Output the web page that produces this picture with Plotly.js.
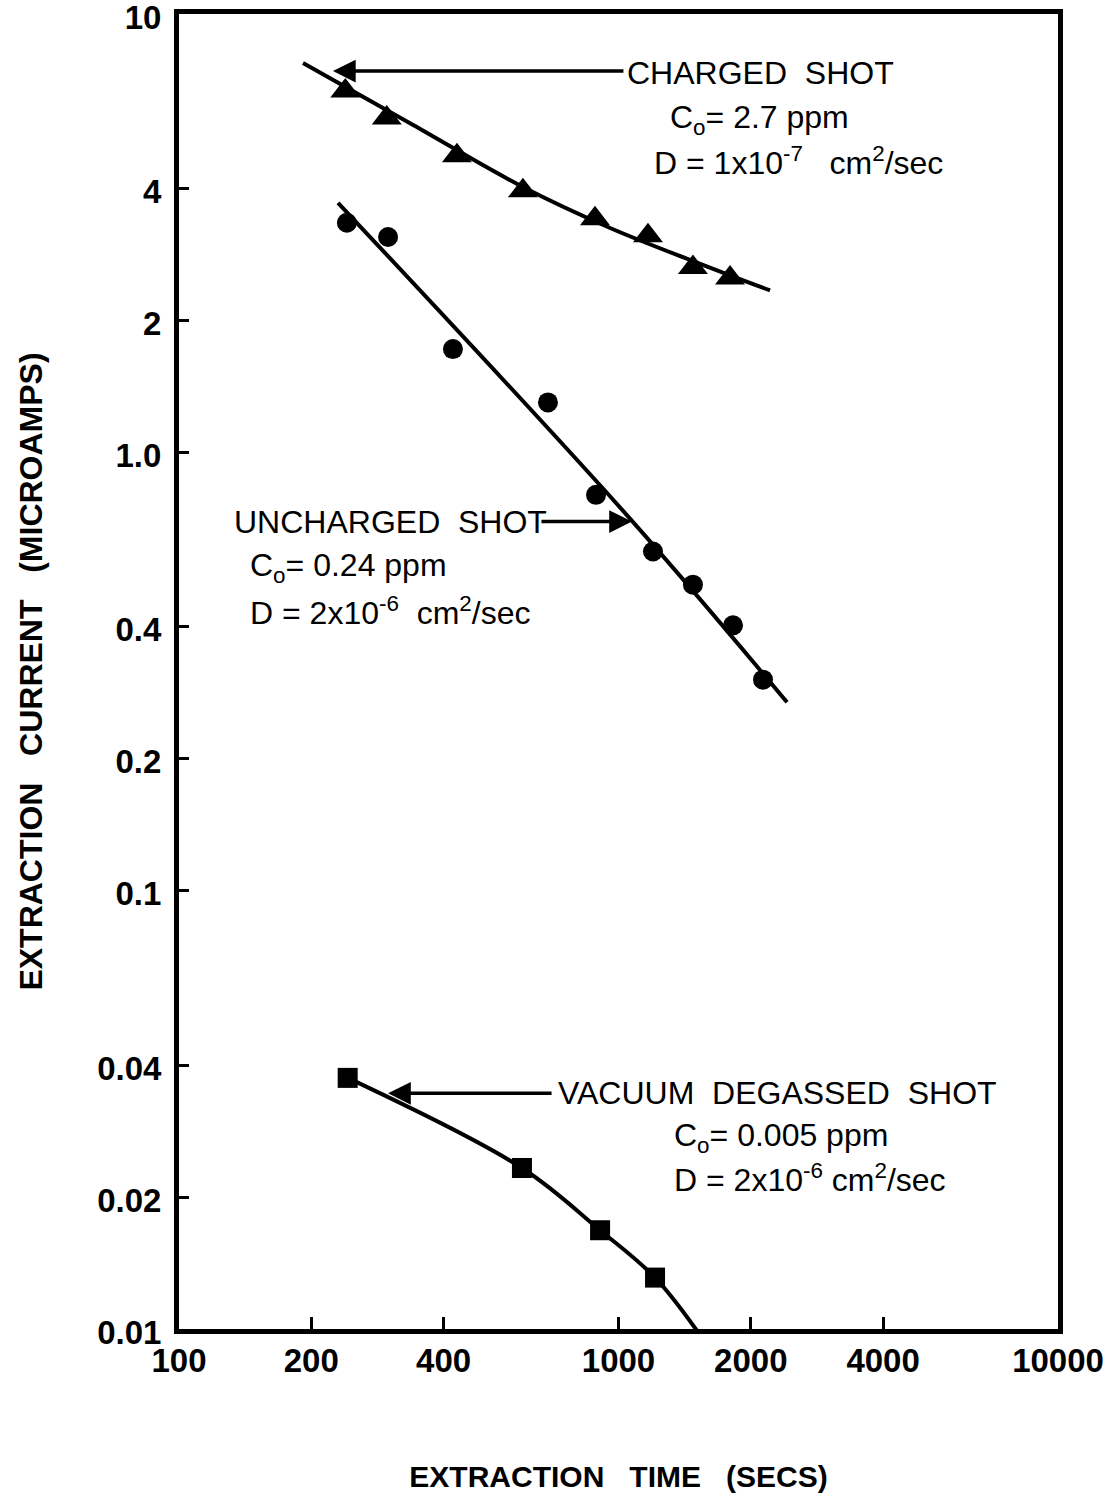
<!DOCTYPE html>
<html>
<head>
<meta charset="utf-8">
<script src="https://cdn.plot.ly/plotly-3.0.1.min.js"></script>
<style>
  html, body { margin: 0; padding: 0; background: #fff; }
  #chart { width: 1115px; height: 1498px; }
</style>
</head>
<body>
<div id="chart"></div>
<script>
// ---- data ----
var chargedTime    = [239, 297, 429, 606, 884, 1167, 1477, 1794];
var chargedCurrent = [6.67, 5.79, 4.75, 3.95, 3.41, 3.12, 2.64, 2.50];
var chargedFitTime    = [191.5, 341, 606, 957, 1493, 2212];
var chargedFitCurrent = [7.73, 5.58, 4.03, 3.25, 2.72, 2.34];

var unchargedTime    = [241, 299, 420, 691, 889, 1198, 1477, 1822, 2132];
var unchargedCurrent = [3.34, 3.10, 1.72, 1.30, 0.80, 0.594, 0.499, 0.403, 0.303];
var unchargedFitTime    = [230, 1062, 2418];
var unchargedFitCurrent = [3.71, 0.706, 0.269];

var vacuumTime    = [242, 603, 908, 1211];
var vacuumCurrent = [0.0374, 0.0233, 0.0168, 0.0131];
var vacuumFitTime    = [242, 603, 908, 1211, 1532];
var vacuumFitCurrent = [0.0374, 0.0233, 0.0168, 0.0131, 0.0097];

var xTickVals = [100, 200, 400, 1000, 2000, 4000, 10000];
var xTickText = ["100", "200", "400", "1000", "2000", "4000", "10000"];
var yTickVals = [10, 4, 2, 1, 0.4, 0.2, 0.1, 0.04, 0.02, 0.01];
var yTickText = ["10", "4", "2", "1.0", "0.4", "0.2", "0.1", "0.04", "0.02", "0.01"];

// ---- drawing ----
var FONT = "Liberation Sans, Arial, sans-serif";
var L = Math.log10;

function fitLine(x, y) {
  return { x: x, y: y, mode: "lines", type: "scatter", hoverinfo: "skip",
           line: { color: "#000", width: 4, shape: "spline", smoothing: 1.0 }, showlegend: false };
}
function pts(x, y, sym, size) {
  return { x: x, y: y, mode: "markers", type: "scatter", showlegend: false,
           marker: { symbol: sym, size: size, color: "#000" } };
}

var traces = [
  fitLine(chargedFitTime, chargedFitCurrent),
  fitLine(unchargedFitTime, unchargedFitCurrent),
  fitLine(vacuumFitTime, vacuumFitCurrent),
  pts(chargedTime, chargedCurrent, "triangle-up", 26),
  pts(unchargedTime, unchargedCurrent, "circle", 20),
  pts(vacuumTime, vacuumCurrent, "square", 20)
];

function txt(x, y, t, size) {
  return { x: L(x), y: L(y), xref: "x", yref: "y", text: t, showarrow: false,
           xanchor: "left", yanchor: "middle",
           font: { family: FONT, size: size || 32, color: "#000" } };
}
function arrow(x, y, ax) {
  return { x: L(x), y: L(y), xref: "x", yref: "y", text: "", showarrow: true,
           ax: ax, ay: 0, arrowhead: 2, arrowsize: 1.3, arrowwidth: 3.5, arrowcolor: "#000" };
}

var annotations = [
  arrow(224, 7.41, 292),
  txt(1035, 7.34, "CHARGED&nbsp;&nbsp;SHOT"),
  txt(1296, 5.76, "C<sub>o</sub>= 2.7 ppm"),
  txt(1192, 4.62, "D = 1x10<sup>-7</sup>&nbsp;&nbsp;&nbsp;cm<sup>2</sup>/sec"),

  arrow(1073, 0.695, -92),
  txt(132, 0.692, "UNCHARGED&nbsp;&nbsp;SHOT"),
  txt(143.6, 0.546, "C<sub>o</sub>= 0.24 ppm"),
  txt(143.6, 0.4356, "D = 2x10<sup>-6</sup>&nbsp;&nbsp;cm<sup>2</sup>/sec"),

  arrow(299, 0.0345, 165),
  txt(721, 0.0345, "VACUUM&nbsp;&nbsp;DEGASSED&nbsp;&nbsp;SHOT"),
  txt(1323, 0.0274, "C<sub>o</sub>= 0.005 ppm"),
  txt(1323, 0.0221, "D = 2x10<sup>-6</sup>&nbsp;cm<sup>2</sup>/sec")
];

var layout = {
  width: 1115, height: 1498,
  margin: { l: 179, r: 57, t: 14, b: 169 },
  paper_bgcolor: "#fff", plot_bgcolor: "#fff",
  showlegend: false,
  font: { family: FONT, color: "#000" },
  xaxis: {
    type: "log", range: [2, 4], autorange: false,
    showgrid: false, zeroline: false,
    showline: true, linewidth: 5, linecolor: "#000", mirror: true,
    ticks: "inside", ticklen: 12, tickwidth: 3, tickcolor: "#000",
    tickvals: xTickVals, ticktext: xTickText,
    tickfont: { family: FONT, size: 33, color: "#000", weight: "bold" },
    ticklabelstandoff: -2, ticklabeloverflow: "allow",
    title: { text: "EXTRACTION&nbsp;&nbsp;&nbsp;TIME&nbsp;&nbsp;&nbsp;(SECS)", standoff: 90,
             font: { family: FONT, size: 30, color: "#000", weight: "bold" } }
  },
  yaxis: {
    type: "log", range: [-2, 1], autorange: false,
    showgrid: false, zeroline: false,
    showline: true, linewidth: 5, linecolor: "#000", mirror: true,
    ticks: "inside", ticklen: 10, tickwidth: 3, tickcolor: "#000",
    tickvals: yTickVals, ticktext: yTickText,
    tickfont: { family: FONT, size: 33, color: "#000", weight: "bold" },
    ticklabelstandoff: 6, ticklabelshift: 3, ticklabeloverflow: "allow",
    title: { text: "EXTRACTION&nbsp;&nbsp;&nbsp;CURRENT&nbsp;&nbsp;&nbsp;(MICROAMPS)", standoff: 46,
             font: { family: FONT, size: 32, color: "#000", weight: "bold" } }
  },
  annotations: annotations
};

Plotly.newPlot("chart", traces, layout, { staticPlot: true, displayModeBar: false });
</script>
</body>
</html>
